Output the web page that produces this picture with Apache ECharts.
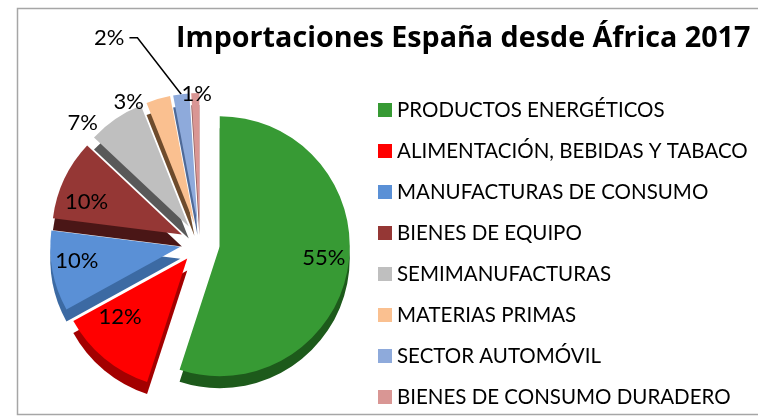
<!DOCTYPE html>
<html>
<head>
<meta charset="utf-8">
<title>Importaciones España desde África 2017</title>
<script src="https://cdn.jsdelivr.net/npm/echarts@6/dist/echarts.min.js"></script>
<style>
    html, body { margin: 0; padding: 0; background: #fff; }
    #main { width: 758px; height: 417px; }
</style>
</head>
<body>
<div id="main"></div>
<script>
// datos del gráfico
var categories = [
    'PRODUCTOS ENERGÉTICOS',
    'ALIMENTACIÓN, BEBIDAS Y TABACO',
    'MANUFACTURAS DE CONSUMO',
    'BIENES DE EQUIPO',
    'SEMIMANUFACTURAS',
    'MATERIAS PRIMAS',
    'SECTOR AUTOMÓVIL',
    'BIENES DE CONSUMO DURADERO'
];
var values = [55, 12, 10, 10, 7, 3, 2, 1];

// colores (cara superior y lateral)
var colors = ['#379a34', '#ff0000', '#5a90d6', '#953735', '#bfbfbf', '#fac090', '#8eaadb', '#d99694'];
var sideColors = ['#1d5a1b', '#a30000', '#3c6aa3', '#4a1616', '#595959', '#6e4b2c', '#4f6a98', '#8c5c5a'];

var cx = 200, cy = 243;

var chart = echarts.init(document.getElementById('main'));

var pieData = values.map(function (v, i) {
    var big = v >= 10;
    return {
        name: categories[i],
        value: v,
        selected: true,
        itemStyle: {
            color: colors[i],
            borderWidth: 0,
            shadowColor: sideColors[i],
            shadowBlur: 0,
            shadowOffsetY: 12
        },
        label: { position: big ? 'inside' : 'outside' },
        labelLine: {
            show: i === 6,
            length: i === 6 ? 62 : 12,
            length2: i === 6 ? 8 : 0,
            lineStyle: { color: '#000', width: 1.5 }
        }
    };
});

var option = {
    animation: false,
    graphic: [{
        type: 'rect',
        shape: { x: 17.5, y: 8.5, width: 760, height: 406 },
        style: { fill: 'none', stroke: '#a6a6a6', lineWidth: 1.5 },
        silent: true
    }],
    title: {
        text: 'Importaciones España desde África 2017',
        left: 171,
        top: 19,
        textStyle: { fontFamily: 'Open Sans', fontSize: 28.7, fontWeight: 'bold', color: '#000' }
    },
    legend: {
        orient: 'vertical',
        left: 373,
        top: 94,
        icon: 'rect',
        itemWidth: 14,
        itemHeight: 14,
        itemGap: 19,
        itemStyle: { shadowBlur: 0, shadowOffsetY: 0, shadowColor: 'transparent' },
        textStyle: { fontFamily: 'Lato', fontSize: 20.5, lineHeight: 22, color: '#000' },
        selectedMode: false,
        data: categories
    },
    series: [{
        name: 'Importaciones',
        type: 'pie',
        center: [cx, cy],
        radius: 130,
        startAngle: 90,
        clockwise: true,
        selectedMode: 'multiple',
        selectedOffset: 20,
        avoidLabelOverlap: false,
        label: {
            formatter: '{c}%',
            fontFamily: 'Lato',
            fontSize: 22,
            color: '#000'
        },
        labelLayout: function (params) {
            var r = params.labelRect;
            var lx = r.x + r.width / 2, ly = r.y + r.height / 2;
            if (params.dataIndex < 4) {
                return { dx: (lx - cx) * 0.55, dy: (ly - cy) * 0.12 };
            }
            if (params.dataIndex === 6 && params.labelLinePoints) {
                // etiqueta desplazada a la izquierda, línea guía en diagonal
                var p = params.labelLinePoints, sx = -36, sy = 5;
                return {
                    dx: sx,
                    dy: sy,
                    labelLinePoints: [p[0], [p[1][0] + sx, p[1][1] + sy], [p[2][0] + sx, p[2][1] + sy]]
                };
            }
            if (params.dataIndex === 7) {
                return { dx: 22, dy: 13 };
            }
            return { dx: -6, dy: 14 };
        },
        emphasis: { disabled: true },
        data: pieData
    }]
};

chart.setOption(option);
</script>
</body>
</html>
